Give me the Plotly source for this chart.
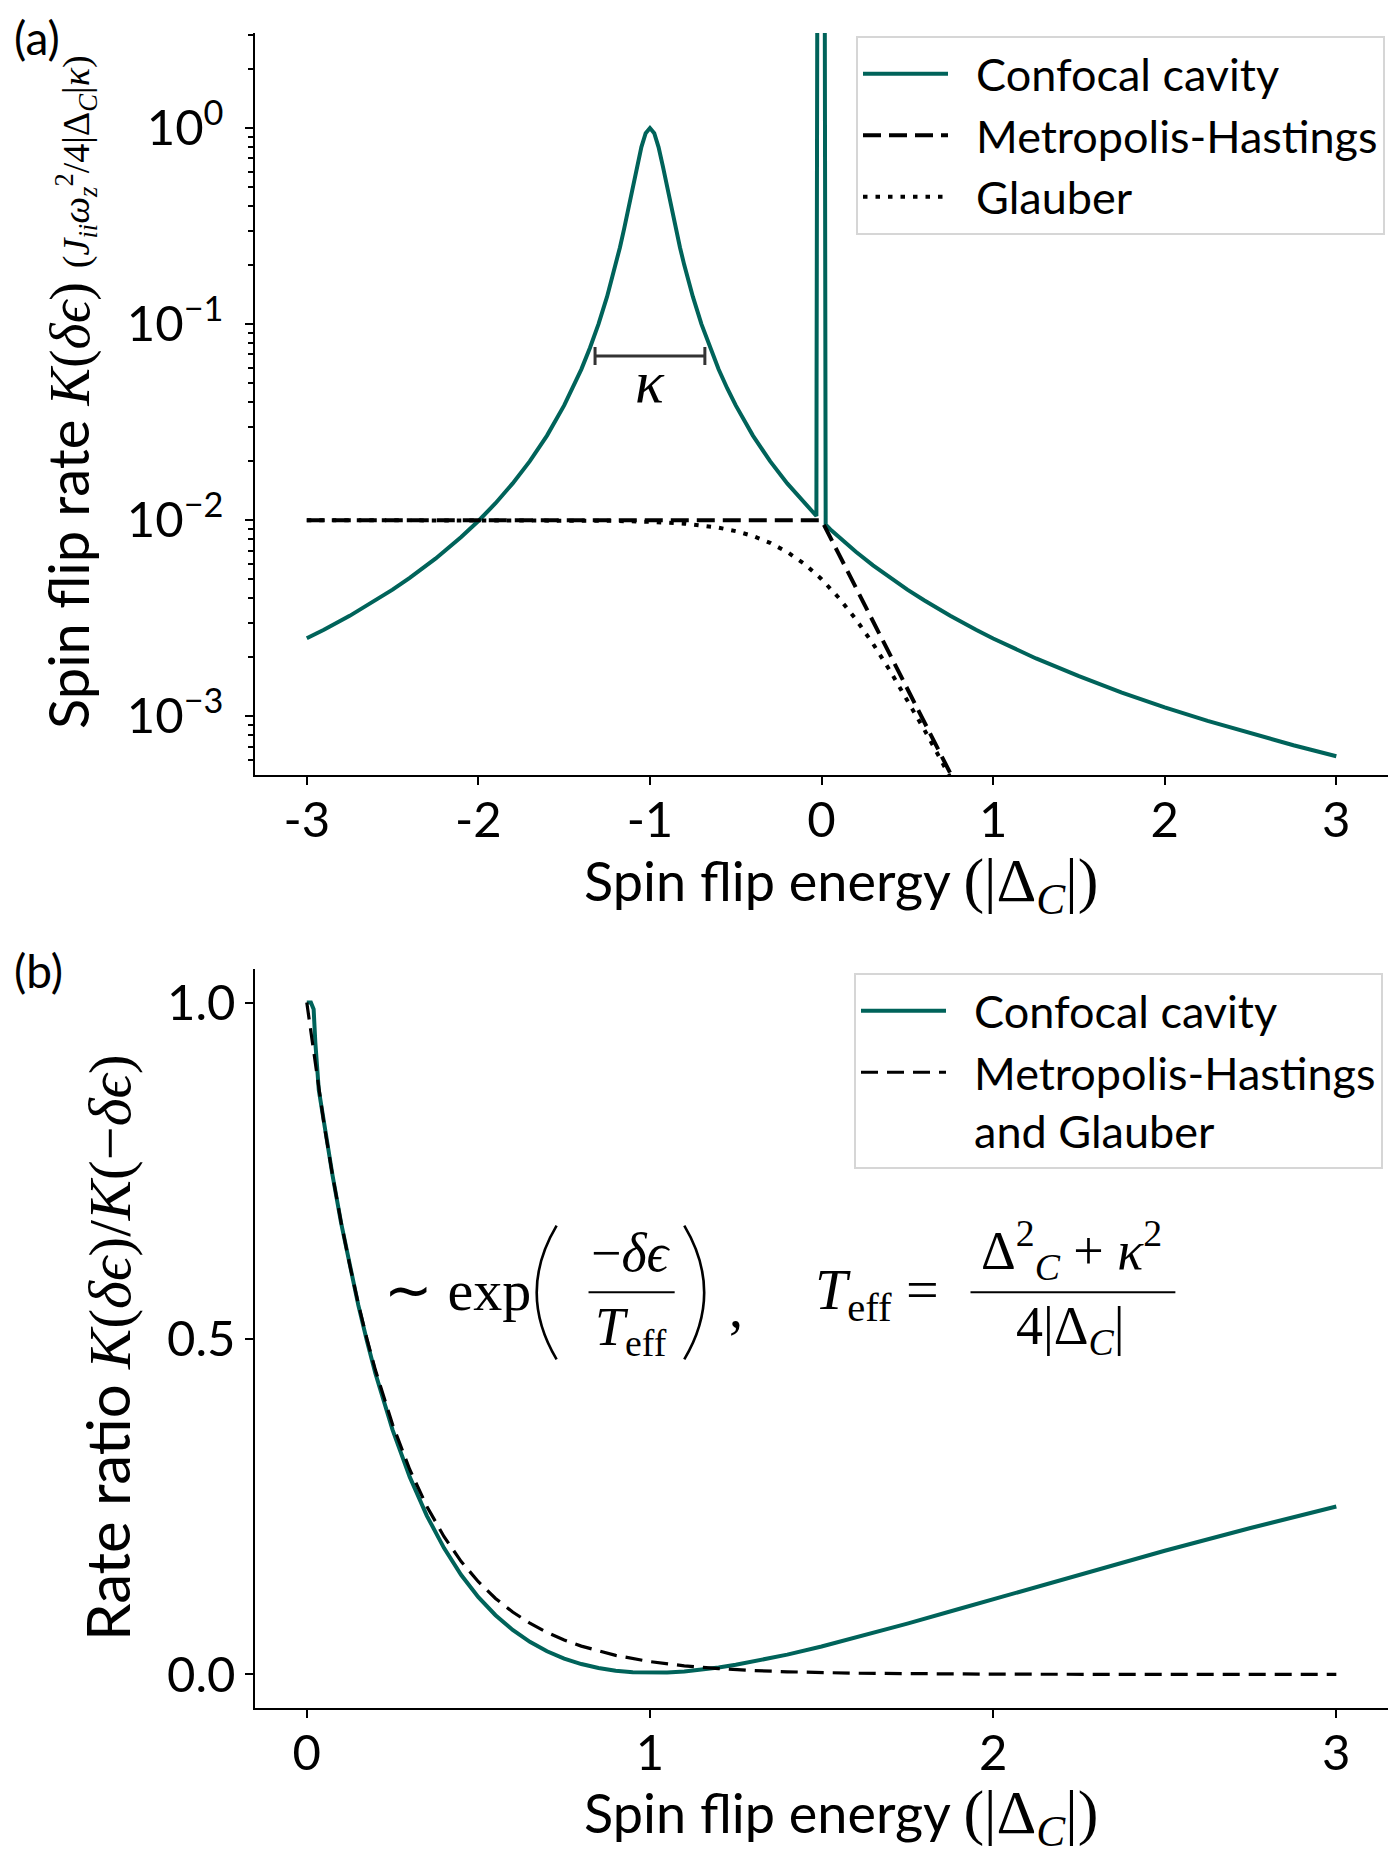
import plotly.graph_objects as go

TEAL = "#00635a"
SANS = "Lato"
SERIF = "Liberation Serif"
W, H = 1390, 1849   # the page body adds an 8px margin

# ---- panel (a): spin flip rate vs spin flip energy (log y) ----
cav_x = [-3.0, -2.9, -2.75, -2.6, -2.5, -2.4, -2.25, -2.1, -2.0, -1.9, -1.8, -1.7,
         -1.6, -1.5, -1.45, -1.4, -1.35, -1.3, -1.25, -1.2, -1.175, -1.15, -1.125,
         -1.1, -1.075, -1.05, -1.025, -1.0, -0.975, -0.95, -0.925, -0.9, -0.875,
         -0.85, -0.825, -0.8, -0.75, -0.7, -0.65, -0.6, -0.55, -0.5, -0.4, -0.3,
         -0.2, -0.1, -0.03, -0.029, -0.027, -0.024, 0.018, 0.021, 0.023, 0.024,
         0.05, 0.1, 0.2, 0.3, 0.4, 0.5, 0.6, 0.75, 0.9, 1.0, 1.25, 1.5, 1.75, 2.0,
         2.25, 2.5, 2.75, 3.0]
cav_y = [0.0025, 0.00276, 0.00325, 0.00389, 0.00442, 0.00508, 0.00636, 0.0082,
         0.0099, 0.0122, 0.0154, 0.02, 0.027, 0.0385, 0.0471, 0.0588, 0.0755, 0.1,
         0.138, 0.2, 0.246, 0.308, 0.39, 0.5, 0.64, 0.8, 0.941, 1.0, 0.941, 0.8,
         0.64, 0.5, 0.39, 0.308, 0.246, 0.2, 0.138, 0.1, 0.0755, 0.0588, 0.0471,
         0.0385, 0.027, 0.02, 0.0154, 0.0122, 0.0105, 0.05, 1.0, 10.0, 10.0, 1.0,
         0.05, 0.0095, 0.00899, 0.0082, 0.0069, 0.00588, 0.00508, 0.00442, 0.00389,
         0.00325, 0.00276, 0.00249, 0.00197, 0.0016, 0.00132, 0.00111, 0.000946,
         0.000816, 0.000711, 0.000625]

mh_x = [-3.0, -2.0, -1.0, 0.0, 0.1, 0.2, 0.3, 0.4, 0.5, 0.6, 0.7, 0.8, 0.9]
mh_y = [0.01, 0.01, 0.01, 0.01, 0.00673, 0.00453, 0.00305, 0.00205, 0.00138,
        0.000929, 0.000625, 0.000421, 0.000283]

gl_x = [-3.0, -2.0, -1.5, -1.25, -1.0, -0.8, -0.6, -0.5, -0.4, -0.3, -0.2, -0.1,
        0.0, 0.1, 0.2, 0.3, 0.4, 0.5, 0.6, 0.7, 0.8, 0.9]
gl_y = [0.01, 0.009996, 0.00997, 0.00993, 0.00981, 0.0096, 0.00915, 0.00879,
        0.0083, 0.00766, 0.00688, 0.00598, 0.005, 0.00402, 0.00312, 0.00234,
        0.0017, 0.00121, 0.00085, 0.000589, 0.000404, 0.000275]

# width marker for kappa
kappa_center = -1.0
kappa_level = 0.0687
kappa_half = 0.32

# ---- panel (b): rate ratio ----
ratio_x = [0.0, 0.012, 0.02, 0.025, 0.035, 0.05, 0.075, 0.1, 0.125, 0.15, 0.175,
           0.2, 0.25, 0.3, 0.35, 0.4, 0.45, 0.5, 0.55, 0.6, 0.65, 0.7, 0.75, 0.8,
           0.85, 0.9, 0.95, 1.0, 1.05, 1.1, 1.15, 1.2, 1.25, 1.3, 1.35, 1.4, 1.5,
           1.6, 1.75, 1.9, 2.0, 2.25, 2.5, 2.75, 3.0]
ratio_y = [1.0, 1.0, 0.99, 0.94, 0.87, 0.82, 0.743, 0.672, 0.608, 0.55, 0.497,
           0.448, 0.364, 0.294, 0.236, 0.188, 0.148, 0.115, 0.0881, 0.0661, 0.0485,
           0.0345, 0.0236, 0.0154, 0.00947, 0.0055, 0.00328, 0.0025, 0.00297,
           0.0045, 0.00702, 0.0103, 0.0143, 0.0189, 0.0239, 0.0295, 0.0415, 0.0547,
           0.0756, 0.0974, 0.112, 0.149, 0.184, 0.218, 0.25]

boltz_x = [0.0, 0.025, 0.05, 0.075, 0.1, 0.125, 0.15, 0.175, 0.2, 0.25, 0.3, 0.35,
           0.4, 0.45, 0.5, 0.55, 0.6, 0.65, 0.7, 0.75, 0.8, 0.9, 1.0, 1.1, 1.2,
           1.3, 1.4, 1.6, 1.8, 2.0, 2.5, 3.0]
boltz_y = [1.0, 0.906, 0.82, 0.743, 0.673, 0.61, 0.552, 0.5, 0.453, 0.372, 0.305,
           0.25, 0.205, 0.168, 0.138, 0.113, 0.0929, 0.0762, 0.0625, 0.0513, 0.0421,
           0.0283, 0.0191, 0.0128, 0.00864, 0.0058, 0.0039, 0.00177, 0.0008,
           0.00036, 0.00005, 0.0]

xa_ticks = [-3, -2, -1, 0, 1, 2, 3]
xa_text = ["-3", "-2", "-1", "0", "1", "2", "3"]
ya_ticks = [1, 0.1, 0.01, 0.001]
ya_text = ["10<sup>0</sup>", "10<sup>−1</sup>", "10<sup>−2</sup>", "10<sup>−3</sup>"]
xb_ticks = [0, 1, 2, 3]
yb_ticks = [0, 0.5, 1.0]
yb_text = ["0.0", "0.5", "1.0"]


def fx(px):
    return (px - 8) / W


def fy(py):
    return 1 - (py - 8) / H


fig = go.Figure()

fig.add_trace(go.Scatter(x=cav_x, y=cav_y, mode="lines", name="&nbsp;&nbsp;Confocal cavity",
                         line=dict(color=TEAL, width=4), legend="legend",
                         xaxis="x", yaxis="y"))
fig.add_trace(go.Scatter(x=mh_x, y=mh_y, mode="lines", name="&nbsp;&nbsp;Metropolis-Hastings",
                         line=dict(color="black", width=4, dash="18px,8px"),
                         legend="legend", xaxis="x", yaxis="y"))
fig.add_trace(go.Scatter(x=gl_x, y=gl_y, mode="lines", name="&nbsp;&nbsp;Glauber",
                         line=dict(color="black", width=4, dash="4.5px,8px"),
                         legend="legend", xaxis="x", yaxis="y"))
fig.add_trace(go.Scatter(x=[kappa_center], y=[kappa_level], mode="lines",
                         showlegend=False, hoverinfo="skip",
                         error_x=dict(type="data", array=[kappa_half], color="#333333",
                                      thickness=3, width=9),
                         xaxis="x", yaxis="y"))

fig.add_trace(go.Scatter(x=ratio_x, y=ratio_y, mode="lines", name="&nbsp;&nbsp;Confocal cavity",
                         line=dict(color=TEAL, width=4), legend="legend2",
                         xaxis="x2", yaxis="y2"))
fig.add_trace(go.Scatter(x=boltz_x, y=boltz_y, mode="lines",
                         name="&nbsp;&nbsp;Metropolis-Hastings<br>&nbsp;&nbsp;and Glauber",
                         line=dict(color="black", width=3.2, dash="17px,9px"),
                         legend="legend2", xaxis="x2", yaxis="y2"))

axis_common = dict(showline=True, linecolor="black", linewidth=2, ticks="outside",
                   ticklen=8, tickwidth=2, tickcolor="black", showgrid=False,
                   zeroline=False, mirror=False,
                   tickfont=dict(family=SANS, size=49, color="black"))

dom_x = [fx(255.3), fx(1387.8)]

legend_common = dict(xanchor="left", yanchor="top", bgcolor="white",
                     bordercolor="#d6d6d6", borderwidth=2, itemwidth=85,
                     valign="top", font=dict(family=SANS, size=45), tracegroupgap=0)

fig.update_layout(
    width=W, height=H,
    margin=dict(l=0, r=0, t=0, b=0),
    paper_bgcolor="white", plot_bgcolor="white",
    font=dict(family=SANS, size=44, color="black"),
    xaxis=dict(axis_common, domain=dom_x, range=[-3.3, 3.3], anchor="y",
               tickvals=xa_ticks, ticktext=xa_text, ticklabelstandoff=-7),
    yaxis=dict(axis_common, domain=[fy(775), fy(33)], type="log", range=[-3.3, 0.485],
               anchor="x", tickvals=ya_ticks, ticktext=ya_text, ticklabelstandoff=12,
               minor=dict(ticks="outside", ticklen=5, tickwidth=1.5, tickcolor="black",
                          dtick="D1", showgrid=False)),
    xaxis2=dict(axis_common, domain=dom_x, range=[-0.15, 3.15], anchor="y2",
                tickvals=xb_ticks, ticklabelstandoff=-7),
    yaxis2=dict(axis_common, domain=[fy(1708), fy(969)], range=[-0.05, 1.05],
                anchor="x2", tickvals=yb_ticks, ticktext=yb_text),
    legend=dict(legend_common, x=fx(856), y=fy(36)),
    legend2=dict(legend_common, x=fx(854), y=fy(973)),
    showlegend=True,
)

ann = []


def paper_text(text, px, py, size=44, angle=0, family=SANS, xanchor="center"):
    ann.append(dict(text=text, x=fx(px), y=fy(py), xref="paper", yref="paper",
                    showarrow=False, textangle=angle, xanchor=xanchor, yanchor="middle",
                    font=dict(family=family, size=size, color="black")))


def math_b(text, x, y, size=56):
    ann.append(dict(text=text, x=x, y=y, xref="x2", yref="y2", showarrow=False,
                    xanchor="center", yanchor="middle",
                    font=dict(family=SERIF, size=size, color="black")))


paper_text("(a)", 12, 38, size=46, xanchor="left")
paper_text("(b)", 12, 970, size=46, xanchor="left")

xtitle = ("Spin flip energy <span style=\"font-family:'Liberation Serif';font-size:62px\">"
          "(|Δ<sub><i>C</i></sub>|)</span>")
paper_text(xtitle, 841, 884, size=54)
paper_text(xtitle, 841, 1816, size=54)

ytitle_a = ("Spin flip rate <span style=\"font-family:'Liberation Serif'\">"
            "<i>K</i>(<i>δϵ</i>) <span style=\"font-size:38px\">"
            "(<i>J</i><sub><i>ii</i></sub><i>ω</i><sub><i>z</i></sub><sup>2</sup>"
            "/4|Δ<sub><i>C</i></sub>|<i>κ</i>)</span></span>")
paper_text(ytitle_a, 69, 392, size=56, angle=-90)

ytitle_b = ("Rate ratio <span style=\"font-family:'Liberation Serif'\">"
            "<i>K</i>(<i>δϵ</i>)/<i>K</i>(−<i>δϵ</i>)</span>")
paper_text(ytitle_b, 107, 1348, size=60, angle=-90)

# kappa label on panel (a)
ann.append(dict(text="<i>κ</i>", x=kappa_center, y=-1.296, xref="x", yref="y",
                showarrow=False, font=dict(family=SERIF, size=60, color="black")))

# formula in panel (b)
math_b("∼ exp", 0.44, 0.572, size=58)
math_b("−<i>δϵ</i>", 0.945, 0.628, size=54)
math_b("<i>T</i><sub>eff</sub>", 0.945, 0.512, size=54)
math_b(",", 1.252, 0.545)
math_b("<i>T</i><sub>eff</sub> =", 1.662, 0.567, size=58)
math_b("Δ<sup>2</sup><sub><i>C</i></sub> + <i>κ</i><sup>2</sup>", 2.228, 0.632, size=54)
math_b("4|Δ<sub><i>C</i></sub>|", 2.224, 0.514, size=54)

fig.update_layout(annotations=ann)

line_b = dict(xref="x2", yref="y2", line=dict(color="black", width=2))
fig.add_shape(type="line", x0=0.821, x1=1.072, y0=0.569, y1=0.569, **line_b)
fig.add_shape(type="line", x0=1.934, x1=2.531, y0=0.569, y1=0.569, **line_b)
# big parentheses around the fraction
paren = dict(xref="x2", yref="y2", line=dict(color="black", width=2.6))
fig.add_shape(type="path", path="M 0.728,0.668 Q 0.612,0.5685 0.728,0.469", **paren)
fig.add_shape(type="path", path="M 1.100,0.668 Q 1.216,0.5685 1.100,0.469", **paren)

fig.write_html("out.html")
